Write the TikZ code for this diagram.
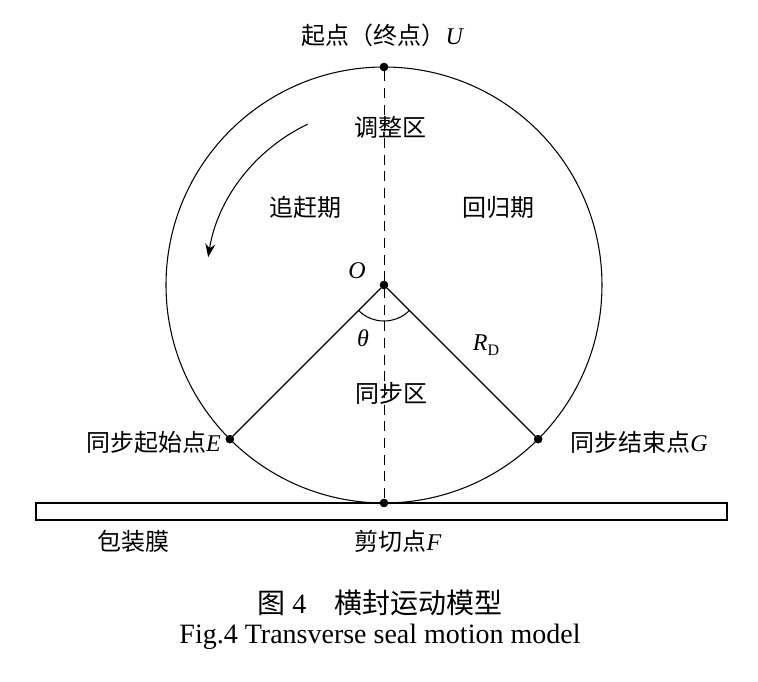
\documentclass[tikz,border=0pt]{standalone}
\usepackage{fontspec}
\setmainfont{Liberation Serif}
\newfontfamily\cjk{Noto Sans CJK SC}
\usepackage{tikz}
\usetikzlibrary{calc, arrows.meta, positioning}
\newcommand{\lat}[1]{\textrm{\itshape #1}}
\tikzset{
    textnode/.style  = {draw=none, fill=none, rectangle, minimum size=0cm, inner sep = 0em,
      font=\cjk\fontsize{18}{20}\selectfont},
    capnode/.style  = {draw=none, fill=none, rectangle, inner sep = 0em,
      font=\fontsize{21}{24}\selectfont},
    dotnode/.style = {draw, fill=black, circle, minimum size=6pt, inner sep = 0em},
    connect/.style = {black, line width=0.8pt},
    zoneline/.style = {black, line width=0.7pt, dash pattern=on 7.5pt off 5pt}
}

\begin{document}
\begin{tikzpicture}[x=0.75pt, y=0.75pt]
    \useasboundingbox (-384,-397) rectangle (374,285);

    % roller and film
    \draw [connect] (0,0) circle (218);
    \draw [connect] (-348,-218) rectangle (343,-235);

    \node [dotnode, name=O] at (0,0) {};
    \node [dotnode, name=U] at (90:218) {};
    \node [dotnode, name=F] at (270:218) {};
    \node [dotnode, name=E] at (225:218) {};
    \node [dotnode, name=G] at (315:218) {};

    \draw [zoneline] (U) -- (F);
    \draw [connect] (O) -- (E);
    \draw [connect] (O) -- (G);
    \draw [connect] (225:36) arc (225:315:36);
    \draw [connect, -{Stealth[length=10pt, width=7.5pt]}] (115.4:178) arc (115.4:171:178);

    \node [textnode, name=startU] at (-1,250) {起点（终点）\lat{U}};
    \node [textnode, name=adjust] at (7,158) {调整区};
    \node [textnode, name=catchup] at (-78,78) {追赶期};
    \node [textnode, name=back] at (115,78) {回归期};
    \node [textnode, name=labO] at (-27,14) {\lat{O}};
    \node [textnode, name=theta] at (-21,-53) {\lat{θ}};
    \node [textnode, name=radius] at (102,-60) {\lat{R}\raisebox{-0.35ex}{\textrm{\fontsize{12}{14}\selectfont D}}};
    \node [textnode, name=sync] at (8,-108) {同步区};
    \node [textnode, anchor=east, name=labE] at (-163,-157) {同步起始点\lat{E}};
    \node [textnode, anchor=west, name=labG] at (186,-157) {同步结束点\lat{G}};
    \node [textnode, name=labF] at (14,-256) {剪切点\lat{F}};
    \node [textnode, name=film] at (-250,-256) {包装膜};

    \node [capnode, name=caption] at (-4,-318) {{\cjk 图}~4\quad{\cjk 横封运动模型}};
    \node [capnode, name=captionen] at (-4,-352) {Fig.4 Transverse seal motion model};
\end{tikzpicture}
\end{document}
